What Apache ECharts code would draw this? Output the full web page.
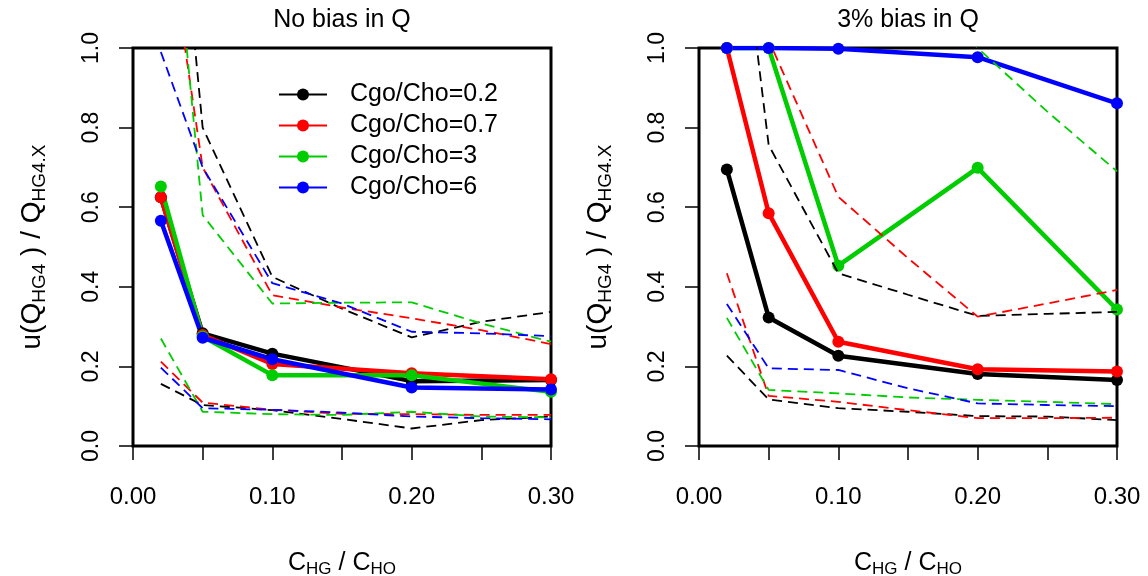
<!DOCTYPE html>
<html>
<head>
<meta charset="utf-8">
<script src="https://cdn.jsdelivr.net/npm/echarts@6/dist/echarts.min.js"></script>
<style>html,body{margin:0;padding:0;background:#fff;}#c{width:1148px;height:576px;}</style>
</head>
<body>
<div id="c"></div>
<script>
// ---------- data ----------
var xSolid = [0.02, 0.05, 0.10, 0.20, 0.30];
var xDash  = [0.02, 0.05, 0.10, 0.15, 0.20, 0.25, 0.30];
var seriesNames = ['Cgo/Cho=0.2', 'Cgo/Cho=0.7', 'Cgo/Cho=3', 'Cgo/Cho=6'];
var panelTitles = ['No bias in Q', '3% bias in Q'];
var xTickLabels = ['0.00', '0.10', '0.20', '0.30'];

// left panel: no bias
var L_black = [0.625, 0.283, 0.232, 0.163, 0.166];
var L_red   = [0.625, 0.279, 0.206, 0.183, 0.168];
var L_green = [0.652, 0.275, 0.178, 0.178, 0.136];
var L_blue  = [0.566, 0.272, 0.218, 0.147, 0.142];
var L_black_hi = [1.90, 0.80, 0.425, 0.345, 0.273, 0.312, 0.337];
var L_red_hi   = [1.41, 0.70, 0.379, 0.348, 0.321, 0.291, 0.256];
var L_green_hi = [1.68, 0.58, 0.358, 0.360, 0.361, 0.308, 0.262];
var L_blue_hi  = [0.99, 0.70, 0.409, 0.358, 0.287, 0.283, 0.276];
var L_black_lo = [0.156, 0.103, 0.090, 0.068, 0.044, 0.065, 0.074];
var L_red_lo   = [0.212, 0.109, 0.091, 0.081, 0.080, 0.078, 0.078];
var L_green_lo = [0.270, 0.086, 0.080, 0.078, 0.086, 0.074, 0.072];
var L_blue_lo  = [0.197, 0.095, 0.091, 0.084, 0.074, 0.070, 0.067];

// right panel: 3% bias
var R_black = [0.695, 0.323, 0.227, 0.181, 0.166];
var R_red   = [1.000, 0.585, 0.262, 0.193, 0.187];
var R_green = [1.000, 1.000, 0.453, 0.699, 0.343];
var R_blue  = [1.000, 1.000, 0.998, 0.977, 0.861];
var R_black_hi = [1.62, 0.756, 0.434, 0.380, 0.327, 0.332, 0.337];
var R_red_hi   = [1.50, 1.02, 0.626, 0.472, 0.325, 0.358, 0.392];
var R_green_hi = [1.60, 1.50, 1.35, 1.20, 1.00, 0.84, 0.69];
var R_blue_hi  = [1.80, 1.60, 1.45, 1.35, 1.25, 1.20, 1.15];
var R_black_lo = [0.227, 0.117, 0.095, 0.086, 0.075, 0.074, 0.065];
var R_red_lo   = [0.434, 0.126, 0.111, 0.090, 0.070, 0.070, 0.071];
var R_green_lo = [0.322, 0.141, 0.132, 0.122, 0.116, 0.111, 0.105];
var R_blue_lo  = [0.357, 0.195, 0.191, 0.145, 0.107, 0.103, 0.100];

var colors = ['#000000', '#ff0000', '#00cd00', '#0000ff'];

// ---------- build ----------
var FONT = "'Liberation Sans', Arial, Helvetica, sans-serif";
function zip(xs, ys) { return xs.map(function (x, i) { return [x, ys[i]]; }); }
function solid(name, color, ys, gi) {
  return { type: 'line', name: name, xAxisIndex: gi, yAxisIndex: gi,
    data: zip(xSolid, ys), symbol: 'circle', symbolSize: 12, showSymbol: true,
    lineStyle: { color: color, width: 4.5 }, itemStyle: { color: color },
    clip: true, z: 3, emphasis: { disabled: true }, silent: true };
}
function dashed(color, ys, gi, tag) {
  return { type: 'line', name: tag, xAxisIndex: gi, yAxisIndex: gi,
    data: zip(xDash, ys), symbol: 'none', showSymbol: false,
    lineStyle: { color: color, width: 1.8, type: [10, 6] }, itemStyle: { color: color },
    clip: true, z: 4, emphasis: { disabled: true }, silent: true };
}
var series = [];
var LS = [L_black, L_red, L_green, L_blue], RS = [R_black, R_red, R_green, R_blue];
var LH = [L_black_hi, L_red_hi, L_green_hi, L_blue_hi], RH = [R_black_hi, R_red_hi, R_green_hi, R_blue_hi];
var LL = [L_black_lo, L_red_lo, L_green_lo, L_blue_lo], RL = [R_black_lo, R_red_lo, R_green_lo, R_blue_lo];
for (var i = 0; i < 4; i++) series.push(solid(seriesNames[i], colors[i], LS[i], 0));
for (var i = 0; i < 4; i++) series.push(solid(seriesNames[i], colors[i], RS[i], 1));
for (var i = 0; i < 4; i++) {
  series.push(dashed(colors[i], LH[i], 0, 'Lhi' + i));
  series.push(dashed(colors[i], LL[i], 0, 'Llo' + i));
  series.push(dashed(colors[i], RH[i], 1, 'Rhi' + i));
  series.push(dashed(colors[i], RL[i], 1, 'Rlo' + i));
}

var richY = {
  n: { fontSize: 28, lineHeight: 33, fontFamily: FONT, color: '#000' },
  s: { fontSize: 19, lineHeight: 19, fontFamily: FONT, color: '#000', verticalAlign: 'bottom' }
};
var richX = {
  n: { fontSize: 25, lineHeight: 30, fontFamily: FONT, color: '#000' },
  s: { fontSize: 17, lineHeight: 17, fontFamily: FONT, color: '#000', verticalAlign: 'bottom' }
};
function xAxisCfg(gi) {
  return { type: 'value', gridIndex: gi, min: 0, max: 0.3, interval: 0.05,
    axisLine: { show: false }, splitLine: { show: false },
    axisTick: { show: true, inside: false, length: 14, lineStyle: { color: '#000', width: 1.5 } },
    axisLabel: { color: '#000', fontSize: 24, fontFamily: FONT, margin: 39,
      formatter: function (v) { var k = Math.round(v * 20); return (k % 2 === 0) ? xTickLabels[k / 2] : ''; } },
    name: '{n|C}{s|HG}{n| / C}{s|HO}', nameLocation: 'middle', nameGap: 102,
    nameTextStyle: { rich: richX } };
}
function yAxisCfg(gi) {
  return { type: 'value', gridIndex: gi, min: 0, max: 1, interval: 0.2,
    axisLine: { show: false }, splitLine: { show: false },
    axisTick: { show: true, inside: false, length: 14, lineStyle: { color: '#000', width: 1.5 } },
    axisLabel: { color: '#000', fontSize: 23, fontFamily: FONT, rotate: 90, margin: 30,
      formatter: function (v) { return v.toFixed(1); } },
    name: '{n|u(Q}{s|HG4}{n| ) / Q}{s|HG4.X}', nameLocation: 'middle', nameGap: 84, nameRotate: 90,
    nameTextStyle: { rich: richY } };
}

var option = {
  animation: false,
  backgroundColor: '#ffffff',
  textStyle: { fontFamily: FONT },
  title: [
    { text: panelTitles[0], left: 342, top: 8, textAlign: 'center', padding: 0,
      textStyle: { fontSize: 25, fontWeight: 'normal', color: '#000', fontFamily: FONT } },
    { text: panelTitles[1], left: 908, top: 8, textAlign: 'center', padding: 0,
      textStyle: { fontSize: 25, fontWeight: 'normal', color: '#000', fontFamily: FONT } }
  ],
  legend: { data: seriesNames, orient: 'vertical', left: 278, top: 79, padding: 0,
    itemWidth: 48, itemHeight: 15, itemGap: 0, selectedMode: false,
    textStyle: { fontSize: 25, lineHeight: 31, color: '#000', fontFamily: FONT, padding: [0, 0, 0, 18] } },
  grid: [
    { left: 133, right: 1148 - 551, top: 48, bottom: 576 - 446, show: true, outerBoundsMode: 'none', containLabel: false,
      borderColor: '#000', borderWidth: 3, backgroundColor: 'transparent' },
    { left: 699, right: 1148 - 1117, top: 48, bottom: 576 - 446, show: true, outerBoundsMode: 'none', containLabel: false,
      borderColor: '#000', borderWidth: 3, backgroundColor: 'transparent' }
  ],
  xAxis: [xAxisCfg(0), xAxisCfg(1)],
  yAxis: [yAxisCfg(0), yAxisCfg(1)],
  series: series
};
var chart = echarts.init(document.getElementById('c'), null, { renderer: 'canvas' });
chart.setOption(option);
</script>
</body>
</html>
